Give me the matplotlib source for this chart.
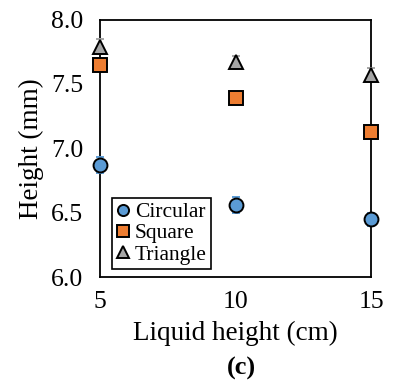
import matplotlib
matplotlib.use('Agg')
import matplotlib.pyplot as plt

# 数据
liquid_height = [5, 10, 15]
circular = [6.87, 6.56, 6.45]
square = [7.65, 7.39, 7.13]
triangle = [7.79, 7.67, 7.57]
circular_err = [0.06, 0.06, 0.05]
square_err = [0.04, 0.04, 0.04]
triangle_err = [0.06, 0.05, 0.05]

plt.rcParams['font.family'] = ['Liberation Serif', 'DejaVu Serif']

fig = plt.figure(figsize=(3.94, 3.81), dpi=100)
ax = fig.add_axes([100 / 394, 1 - 277 / 381, 271 / 394, 257.5 / 381])

series = [
    ('Circular', circular, circular_err, 'o', '#5B9BD5'),
    ('Square', square, square_err, 's', '#ED7D31'),
    ('Triangle', triangle, triangle_err, '^', '#A5A5A5'),
]
for name, vals, err, m, c in series:
    ax.errorbar(liquid_height, vals, yerr=err, fmt=m, color=c, ecolor=c,
                markerfacecolor=c, markeredgecolor='black', markeredgewidth=1.4,
                markersize=10, capsize=3, elinewidth=1, label=name,
                clip_on=False, zorder=3)

ax.set_xlim(5, 15)
ax.set_ylim(6.0, 8.0)
ax.set_xticks([5, 10, 15])
ax.set_yticks([6.0, 6.5, 7.0, 7.5, 8.0])
ax.set_yticklabels(['6.0', '6.5', '7.0', '7.5', '8.0'])
ax.tick_params(axis='y', length=0, labelsize=18.5, pad=12)
ax.tick_params(axis='x', length=0, labelsize=18.5, pad=10)
for s in ax.spines.values():
    s.set_linewidth(1.3)

ax.set_xlabel('Liquid height (cm)', fontsize=19.5, labelpad=6)
ax.set_ylabel('Height (mm)', fontsize=19.5, labelpad=5)

handles, labels = ax.get_legend_handles_labels()
handles = [h[0] for h in handles]
leg = ax.legend(handles, labels, loc='lower left', bbox_to_anchor=(0.03, 0.015),
                fontsize=15.5, markerscale=0.8, handlelength=0.6, handletextpad=0.25,
                labelspacing=0.05, borderpad=0.2, borderaxespad=0.2,
                fancybox=False, framealpha=1, edgecolor='black')
leg.get_frame().set_linewidth(1.2)

fig.text(241 / 394, 1 - 368 / 381, '(c)', fontsize=19, fontweight='bold',
         ha='center', va='center')

fig.savefig('out.png', dpi=100)
